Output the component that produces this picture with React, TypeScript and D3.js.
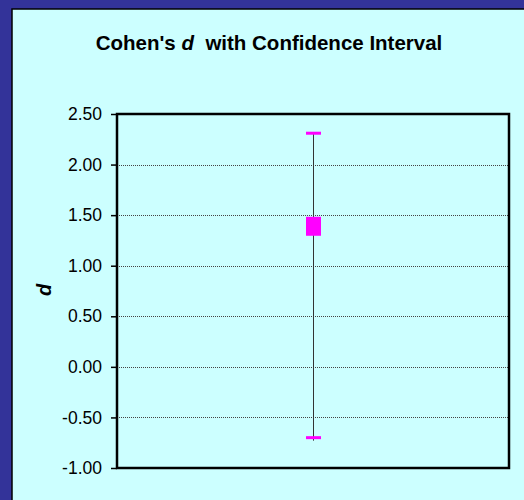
import React, { useEffect, useRef } from 'react';
import * as d3 from 'd3';

// values
const yTicks = [-1.0, -0.5, 0.0, 0.5, 1.0, 1.5, 2.0, 2.5];
const effect = [1.39];
const ciLower = [-0.7];
const ciUpper = [2.31];
const groups = ['d'];

const App = () => {
  const svgRef = useRef<SVGSVGElement>(null);

  useEffect(() => {
    const svg = d3.select(svgRef.current);
    svg.selectAll('*').remove();

    const width = 524;
    const height = 500;
    const plot = { left: 117, top: 114, right: 509, bottom: 468 };
    const font = 'Liberation Sans, Arial, sans-serif';

    // outer frame
    svg.append('rect').attr('x', 0).attr('y', 0).attr('width', width).attr('height', height).attr('fill', '#333399');
    svg.append('rect').attr('x', 12).attr('y', 9).attr('width', width).attr('height', height)
      .attr('fill', '#CCFFFF').attr('stroke', '#000').attr('stroke-width', 1.5);

    svg.append('text')
      .attr('x', 269).attr('y', 50)
      .attr('text-anchor', 'middle')
      .attr('font-family', font)
      .attr('font-weight', 'bold')
      .attr('font-size', 20.5)
      .style('white-space', 'pre')
      .selectAll('tspan')
      .data([{ t: "Cohen's ", i: false }, { t: 'd', i: true }, { t: '  with Confidence Interval', i: false }])
      .enter().append('tspan')
      .attr('font-style', d => d.i ? 'italic' : 'normal')
      .text(d => d.t);

    const y = d3.scaleLinear().domain([-1, 2.5]).range([plot.bottom, plot.top]);
    const x = d3.scaleBand().domain(groups).range([plot.left, plot.right]);

    // gridlines
    svg.append('g').selectAll('line')
      .data(yTicks.filter(v => v > -1 && v < 2.5))
      .enter().append('line')
      .attr('x1', plot.left).attr('x2', plot.right)
      .attr('y1', d => Math.round(y(d)) + 0.5).attr('y2', d => Math.round(y(d)) + 0.5)
      .attr('stroke', '#444').attr('stroke-width', 1).attr('stroke-dasharray', '1,1');

    // y axis
    const fmt = (v: number) => d3.format('.2f')(v).replace('\u2212', '-');
    const axis = svg.append('g')
      .attr('transform', `translate(${plot.left},0)`)
      .call(d3.axisLeft(y).tickValues(yTicks).tickFormat(d => fmt(d as number)).tickSize(6).tickPadding(9));
    axis.select('.domain').remove();
    axis.selectAll('.tick line').attr('stroke', '#000').attr('stroke-width', 1.5);
    axis.selectAll('.tick text')
      .attr('font-family', font)
      .attr('font-size', 17.5).attr('fill', '#000');

    // plot border
    svg.append('rect')
      .attr('x', plot.left).attr('y', plot.top)
      .attr('width', plot.right - plot.left).attr('height', plot.bottom - plot.top)
      .attr('fill', 'none').attr('stroke', '#000').attr('stroke-width', 2.5);

    svg.append('text')
      .attr('transform', `translate(51,290) rotate(-90)`)
      .attr('text-anchor', 'middle')
      .attr('font-family', font)
      .attr('font-weight', 'bold').attr('font-style', 'italic')
      .attr('font-size', 20)
      .text('d');

    const cx = Math.round((x(groups[0]) ?? 0) + x.bandwidth() / 2) + 0.5;
    const g = svg.append('g');
    groups.forEach((_, i) => {
      g.append('line')
        .attr('x1', cx).attr('x2', cx)
        .attr('y1', y(ciUpper[i])).attr('y2', y(ciLower[i]) + 3)
        .attr('stroke', '#333').attr('stroke-width', 1);
      [ciUpper[i], ciLower[i]].forEach(v => {
        g.append('line')
          .attr('x1', cx - 7.5).attr('x2', cx + 7.5)
          .attr('y1', y(v)).attr('y2', y(v))
          .attr('stroke', '#FF00FF').attr('stroke-width', 3);
      });
      g.append('rect')
        .attr('x', cx - 7.5).attr('y', y(effect[i]) - 9.5)
        .attr('width', 15).attr('height', 19)
        .attr('fill', '#FF00FF');
    });
  }, []);

  return (
    <svg ref={svgRef} width="524" height="500" style={{ display: 'block', position: 'absolute', left: 0, top: 0 }}>
    </svg>
  );
};

export default App;
